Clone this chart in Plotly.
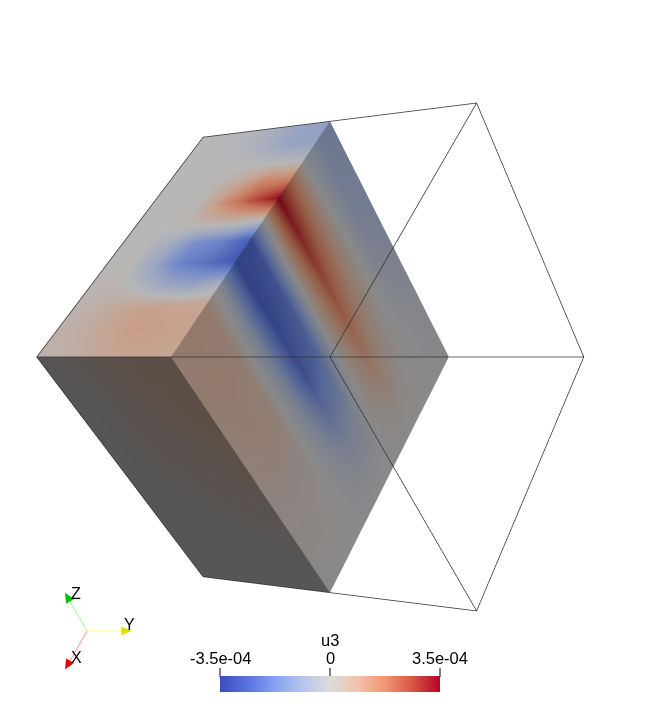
import numpy as np
import plotly.graph_objects as go

# the page has an 8px body margin, so the figure is that much smaller than the window
MARGIN = 8
WIDTH, HEIGHT = 667 - 2 * MARGIN, 719 - 2 * MARGIN
FONT = "Liberation Sans"
ORTHO_ZOOM = 2.015

# u3 on the visible faces, in units of 1e-4
# rows follow x from 0 to 1
x_slice = [0, .09, .18, .27, .36, .45, .54, .63, .72, .81, .9, 1]
z_slice = [1, .85, .7, .55, .4, .25, .1, 0]
u3_slice = [
    [-1.0, -.9, -.8, -.6, -.4, -.2, -.1, -.1],
    [-.9, -.8, -.7, -.5, -.3, -.1, -.1, 0],
    [-.2, -.1, 0, 0, 0, 0, 0, 0],
    [1.5, 1.3, 1.1, .8, .5, .3, .1, 0],
    [3.4, 2.9, 2.3, 1.8, 1.3, .7, .2, 0],
    [.2, .4, .4, .4, .3, .3, .1, 0],
    [-2.6, -2.3, -2.1, -1.7, -1.1, -.5, -.1, 0],
    [-2.8, -2.8, -2.6, -2.4, -1.5, -.7, -.2, 0],
    [-.4, -.6, -.7, -.6, -.4, -.2, -.1, 0],
    [.8, .7, .6, .5, .3, .1, 0, 0],
    [.8, .8, .7, .6, .4, .2, .1, 0],
    [.7, .7, .6, .5, .3, .2, .1, 0],
]

y_top = [0, .1, .2, .3, .4, .5]
u3_top = [
    [0, 0, -.1, -.4, -.8, -1.0],
    [0, 0, -.1, -.4, -.9, -.9],
    [0, 0, 0, 0, -.1, -.2],
    [0, 0, .1, .6, 1.5, 1.5],
    [0, 0, .1, 1.3, 2.4, 3.4],
    [0, 0, .1, .3, .4, .2],
    [0, 0, -.5, -1.5, -1.8, -2.6],
    [0, .1, -.8, -1.8, -2.2, -2.8],
    [.1, .2, -.1, -.7, -.9, -.4],
    [.2, .4, .7, .9, .8, .8],
    [.3, .4, .7, 1.0, .9, .8],
    [.2, .3, .5, .7, .8, .7],
]

# rows follow z from 1 to 0
z_side = [1, .75, .5, .25, 0]
y_side = [0, .125, .25, .375, .5]
u3_side = [
    [.1, .2, .5, .7, .7],
    [0, .1, .4, .6, .7],
    [0, .1, .2, .4, .5],
    [0, 0, 0, .1, .1],
    [0, 0, 0, 0, 0],
]

cool_warm = [
    [0, (59, 76, 192)], [.125, (88, 115, 222)], [.25, (134, 162, 242)],
    [.375, (182, 197, 235)], [.5, (221, 221, 221)], [.625, (240, 195, 170)],
    [.75, (243, 150, 115)], [.875, (215, 85, 70)], [1, (180, 4, 38)],
]
tick_vals = [-3.5, 0, 3.5]
tick_text = ["-3.5e-04", "0", "3.5e-04"]

# box edges by corner, the two hidden under the solid half are left out
box_edges = [
    ((1, 0, 1), (0, 0, 1)), ((0, 0, 1), (0, 1, 1)), ((0, 1, 1), (1, 1, 1)), ((1, 1, 1), (1, 0, 1)),
    ((0, 1, 1), (0, 1, 0)), ((1, 1, 1), (1, 1, 0)), ((1, 0, 1), (1, 0, 0)),
    ((1, 0, 0), (1, 1, 0)), ((1, 1, 0), (0, 1, 0)), ((0, 1, 0), (0, 0, 0)),
]

right = np.array([-1, 2, -1]) / 6 ** .5
up = np.array([-1, 0, 1]) / 2 ** .5
view = np.array([1, 1, 1]) / 3 ** .5
DIST, FOCAL = 8.0, 1323.0
CX, CY = 330.0 - MARGIN, HEIGHT - (357.0 - MARGIN)


def project(x, y, z):
    p = np.stack([2 * np.asarray(x, float) - 1, 2 * np.asarray(y, float) - 1, 2 * np.asarray(z, float) - 1], -1)
    w = FOCAL / (DIST - p @ view)
    return CX + w * (p @ right), CY + w * (p @ up)


def shaded(k):
    return [[s, "rgb(%d,%d,%d)" % tuple(min(255, c * k) for c in col)] for s, col in cool_warm]


def face(px, py, values, shade, level=0.0):
    return go.Surface(
        x=px, y=py, z=np.full(px.shape, level), surfacecolor=values,
        cmin=-3.5, cmax=3.5, colorscale=shaded(shade), showscale=False, hoverinfo="skip",
        lighting=dict(ambient=1, diffuse=0, specular=0, fresnel=0),
        contours=dict(x=dict(highlight=False), y=dict(highlight=False), z=dict(highlight=False)),
    )


fig = go.Figure()

X, Z = np.meshgrid(x_slice, z_slice, indexing="ij")
fig.add_trace(face(*project(X, np.full(X.shape, .5), Z), np.array(u3_slice), .62))

X, Y = np.meshgrid(x_slice, y_top, indexing="ij")
fig.add_trace(face(*project(X, Y, np.ones(X.shape)), np.array(u3_top), .83))

Z, Y = np.meshgrid(z_side, y_side, indexing="ij")
fig.add_trace(face(*project(np.ones(Z.shape), Y, Z), np.array(u3_side), .39))

for a, b in box_edges:
    px, py = project(*np.array([a, b]).T)
    fig.add_trace(go.Scatter3d(x=px, y=py, z=[.5, .5], mode="lines", hoverinfo="skip",
                               line=dict(color="#333333", width=1.5)))

# orientation triad at the lower left
TRIAD_X, TRIAD_Y, TRIAD_LEN = 89.0 - MARGIN, HEIGHT - (629.0 - MARGIN), 44.0
triad = [
    ("X", (1, 0, 0), "#ff8080", "#e00000", (11, 12)),
    ("Y", (0, 1, 0), "#ffff40", "#e0e000", (-2, 6)),
    ("Z", (0, 0, 1), "#80ff80", "#00c000", (11, -1)),
]
scene_notes = []
for name, axis, shaft, head, off in triad:
    axis = np.array(axis, float)
    d = np.array([axis @ right, axis @ up])
    d = d / np.hypot(*d)
    n = np.array([-d[1], d[0]])
    tip = np.array([TRIAD_X, TRIAD_Y]) + TRIAD_LEN * d
    neck = tip - 10 * d
    fig.add_trace(go.Scatter3d(x=[TRIAD_X, neck[0]], y=[TRIAD_Y, neck[1]], z=[.5, .5], mode="lines",
                               hoverinfo="skip", line=dict(color=shaft, width=1.5)))
    head_pts = np.array([tip, neck + 4.5 * n, neck - 4.5 * n])
    fig.add_trace(go.Mesh3d(x=head_pts[:, 0], y=head_pts[:, 1], z=[.5, .5, .5], i=[0], j=[1], k=[2],
                            color=head, hoverinfo="skip", lighting=dict(ambient=1, diffuse=0, specular=0)))
    scene_notes.append(dict(x=tip[0] + off[0], y=tip[1] + off[1], z=.5, text=name, showarrow=False,
                            font=dict(family=FONT, size=16, color="black")))

# colour bar only, its labels go above it as annotations because a horizontal bar keeps them below
BAR_LEFT, BAR_LEN = 220 - MARGIN, 220
BAR_BOTTOM = 719 - 692 - MARGIN
fig.add_trace(go.Scatter3d(
    x=[0, 0], y=[0, 0], z=[0, 0], mode="markers", hoverinfo="skip",
    marker=dict(size=.1, opacity=0, color=[-3.5, 3.5], cmin=-3.5, cmax=3.5,
                colorscale=shaded(1), showscale=True,
                colorbar=dict(
                    orientation="h", x=BAR_LEFT / WIDTH, xanchor="left", y=BAR_BOTTOM / HEIGHT, yanchor="bottom",
                    lenmode="pixels", len=BAR_LEN, thickness=16, thicknessmode="pixels",
                    xpad=0, ypad=0, outlinewidth=0, ticks="", showticklabels=False,
                )),
))


def bar_x(v):
    return (BAR_LEFT + BAR_LEN * (v + 3.5) / 7) / WIDTH


def page_y(y):
    return (HEIGHT - (y - MARGIN)) / HEIGHT


label = dict(xref="paper", yref="paper", showarrow=False, xanchor="center", yanchor="middle",
             font=dict(family=FONT, size=16.5, color="black"))
annotations = [dict(x=bar_x(0), y=page_y(640), text="u3", **label)]
shapes = []
for v, t in zip(tick_vals, tick_text):
    annotations.append(dict(x=bar_x(v), y=page_y(658), text=t, **label))
    shapes.append(dict(type="line", xref="paper", yref="paper", x0=bar_x(v), x1=bar_x(v),
                       y0=page_y(668), y1=page_y(677), line=dict(color="black", width=1)))

hidden = dict(visible=False, showgrid=False, zeroline=False, showspikes=False)
fig.update_layout(
    width=WIDTH, height=HEIGHT, margin=dict(l=0, r=0, t=0, b=0),
    paper_bgcolor="white", showlegend=False,
    annotations=annotations, shapes=shapes,
    scene=dict(
        domain=dict(x=[0, 1], y=[0, 1]),
        xaxis=dict(range=[0, WIDTH], **hidden),
        yaxis=dict(range=[0, HEIGHT], **hidden),
        zaxis=dict(range=[-1, 1], **hidden),
        aspectmode="manual",
        aspectratio=dict(x=ORTHO_ZOOM * WIDTH / HEIGHT, y=ORTHO_ZOOM, z=.1),
        camera=dict(projection=dict(type="orthographic"), eye=dict(x=0, y=0, z=2),
                    up=dict(x=0, y=1, z=0), center=dict(x=0, y=0, z=0)),
        annotations=scene_notes,
    ),
)

fig.write_html("out.html")
